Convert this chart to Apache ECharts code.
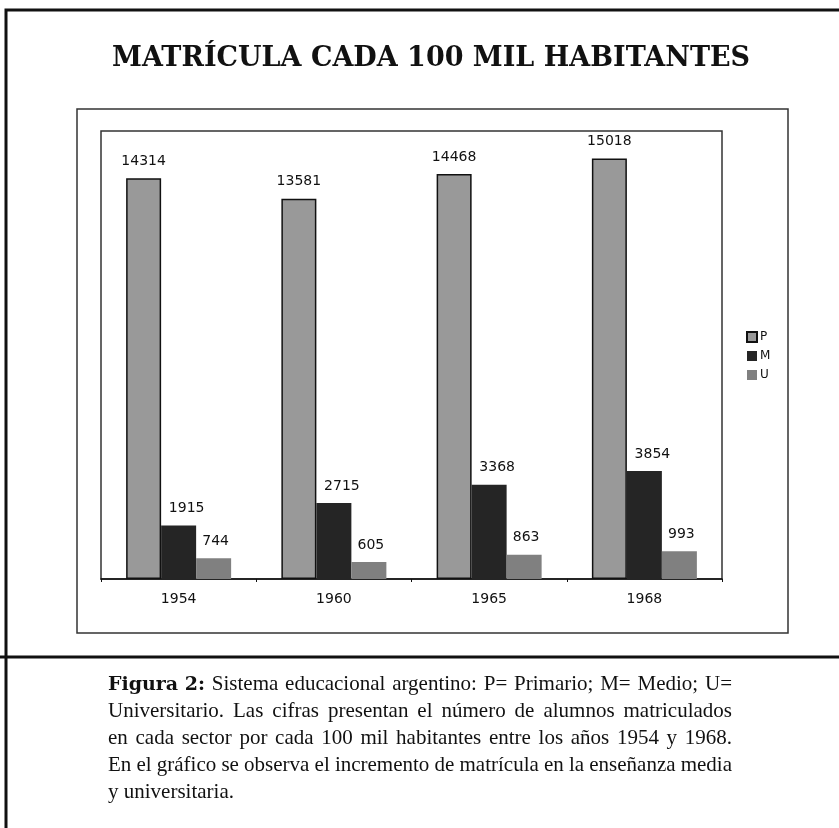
<!DOCTYPE html>
<html>
<head>
<meta charset="utf-8">
<script src="https://cdn.jsdelivr.net/npm/echarts@6/dist/echarts.min.js"></script>
<style>
  html, body { margin: 0; padding: 0; background: #fff; }
  #chart { width: 839px; height: 828px; }
</style>
</head>
<body>
<div id="chart"></div>
<script>
const years = ['1954', '1960', '1965', '1968'];
const primario = [14314, 13581, 14468, 15018];
const medio = [1915, 2715, 3368, 3854];
const universitario = [744, 605, 863, 993];
const seriesNames = ['P', 'M', 'U'];
const captionLines = [
  'Figura 2: Sistema educacional argentino: P= Primario; M= Medio; U=',
  'Universitario. Las cifras presentan el número de alumnos matriculados',
  'en cada sector por cada 100 mil habitantes entre los años 1954 y 1968.',
  'En el gráfico se observa el incremento de matrícula en la enseñanza media',
  'y universitaria.'
];

const chart = echarts.init(document.getElementById('chart'));

const labelFont = { fontFamily: 'DejaVu Sans', fontSize: 14, color: '#111' };

// justified caption: each word placed by measured widths
const capLeft = 108, capRight = 732, capTop = 674, capLine = 27;
const regFont = '21px "Liberation Serif"';
const boldFont = 'bold 19px "DejaVu Serif"';
const ctx = document.createElement('canvas').getContext('2d');
const measure = (t, f) => { ctx.font = f; return ctx.measureText(t).width; };

const captionGraphics = [];
captionLines.forEach((line, i) => {
  let words = line.split(' ');
  let fonts = words.map(() => regFont);
  if (i === 0) {
    words = ['Figura 2:'].concat(words.slice(2));
    fonts = [boldFont].concat(words.slice(1).map(() => regFont));
  }
  const widths = words.map((w, k) => measure(w, fonts[k]));
  const total = widths.reduce((a, b) => a + b, 0);
  const last = i === captionLines.length - 1;
  const gap = last ? measure(' ', regFont) : (capRight - capLeft - total) / (words.length - 1);
  let x = capLeft;
  words.forEach((w, k) => {
    captionGraphics.push({
      type: 'text',
      x: x,
      y: capTop + i * capLine + (fonts[k] === boldFont ? 2 : 0),
      style: { text: w, font: fonts[k], fill: '#111', textVerticalAlign: 'top' }
    });
    x += widths[k] + gap;
  });
});

const option = {
  animation: false,
  backgroundColor: '#fff',
  title: {
    text: 'MATRÍCULA CADA 100 MIL HABITANTES',
    left: 107,
    top: 40,
    textStyle: { fontFamily: 'DejaVu Serif', fontWeight: 'bold', fontSize: 27, color: '#111' }
  },
  legend: {
    orient: 'vertical',
    left: 741,
    top: 326,
    itemWidth: 10,
    itemHeight: 10,
    itemGap: 7,
    icon: 'rect',
    textStyle: { fontFamily: 'DejaVu Sans', fontSize: 12, color: '#111', padding: [0, 0, 0, -2] },
    data: seriesNames
  },
  grid: {
    left: 101,
    right: 117,
    top: 131,
    bottom: 249,
    show: true,
    borderColor: '#333',
    borderWidth: 1.5
  },
  xAxis: {
    type: 'category',
    data: years,
    axisLine: { lineStyle: { color: '#111', width: 1.5 } },
    axisTick: { show: true, length: 3, lineStyle: { color: '#111' } },
    axisLabel: Object.assign({ margin: 13 }, labelFont)
  },
  yAxis: {
    type: 'value',
    min: 0,
    max: 16000,
    show: false
  },
  series: [
    {
      name: 'P',
      type: 'bar',
      data: primario,
      barWidth: 35,
      barGap: '0%',
      itemStyle: { color: '#999999', borderColor: '#111', borderWidth: 1.5 },
      label: Object.assign({ show: true, position: 'top', distance: 10 }, labelFont)
    },
    {
      name: 'M',
      type: 'bar',
      data: medio,
      barWidth: 35,
      barGap: '0%',
      itemStyle: { color: '#252525' },
      label: Object.assign({ show: true, position: 'top', distance: 10, offset: [8, 0] }, labelFont)
    },
    {
      name: 'U',
      type: 'bar',
      data: universitario,
      barWidth: 35,
      barGap: '0%',
      itemStyle: { color: '#808080' },
      label: Object.assign({ show: true, position: 'top', distance: 10, offset: [2, 0] }, labelFont)
    }
  ],
  graphic: [
    // outer page border (left and top)
    {
      type: 'polyline',
      shape: { points: [[6, 828], [6, 10], [839, 10]] },
      style: { stroke: '#111', lineWidth: 3, fill: null }
    },
    // chart frame
    {
      type: 'rect',
      shape: { x: 77, y: 109, width: 711, height: 524 },
      style: { stroke: '#333', lineWidth: 1.5, fill: null },
      z: -1
    },
    // separator above the caption
    {
      type: 'line',
      shape: { x1: 0, y1: 657, x2: 839, y2: 657 },
      style: { stroke: '#111', lineWidth: 3 }
    }
  ].concat(captionGraphics)
};

chart.setOption(option);
</script>
</body>
</html>
